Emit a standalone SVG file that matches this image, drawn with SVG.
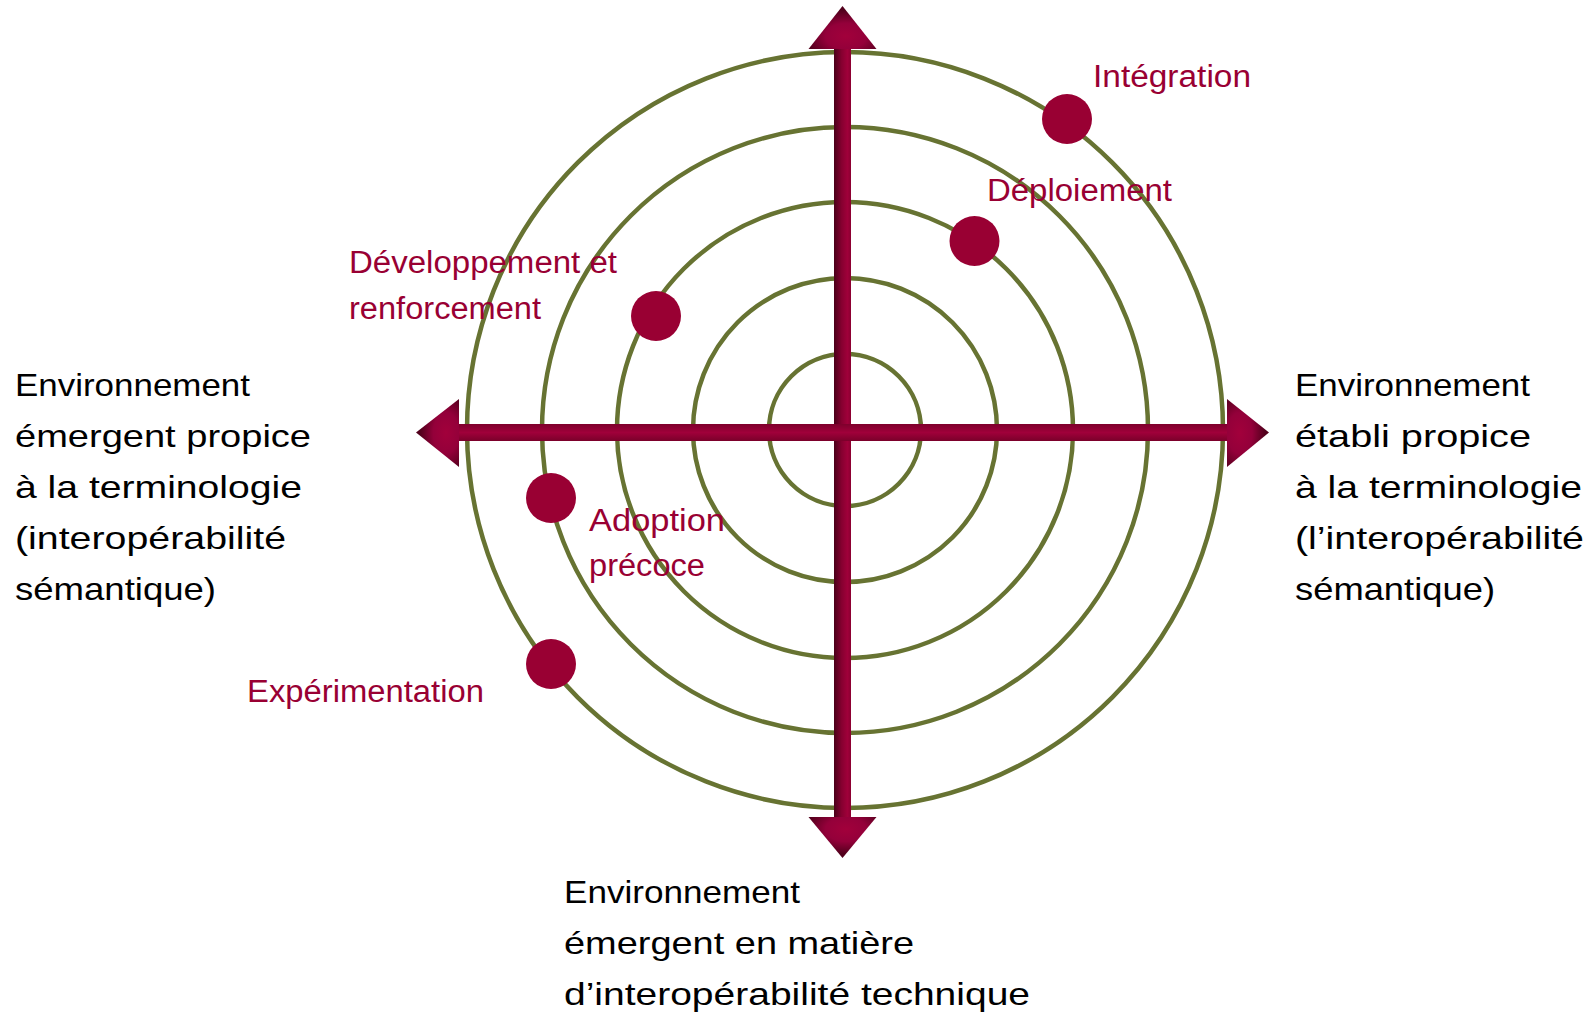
<svg xmlns="http://www.w3.org/2000/svg" width="1595" height="1013" viewBox="0 0 1595 1013">
  <defs>
    <style>
      .ring { fill: none; stroke: #677332; stroke-width: 4.5; }
      .dot { fill: #990033; }
      .lbl { font-family: "Liberation Sans", "Open Sans", sans-serif; font-size: 31px; fill: #990033; }
      .blk { font-family: "Liberation Sans", "Open Sans", sans-serif; font-size: 32px; fill: #000000; }
    </style>
    <linearGradient id="gV" x1="0" y1="0" x2="1" y2="0">
      <stop offset="0" stop-color="#4a0019"/>
      <stop offset="0.45" stop-color="#860030"/>
      <stop offset="0.8" stop-color="#a0003a"/>
      <stop offset="1" stop-color="#8a0030"/>
    </linearGradient>
    <linearGradient id="gH" x1="0" y1="0" x2="0" y2="1">
      <stop offset="0" stop-color="#7e002c"/>
      <stop offset="0.5" stop-color="#a0003a"/>
      <stop offset="1" stop-color="#7a002a"/>
    </linearGradient>
    <radialGradient id="gUp" cx="0.55" cy="0.7" r="0.6">
      <stop offset="0" stop-color="#a2003b"/>
      <stop offset="0.5" stop-color="#94003a"/>
      <stop offset="1" stop-color="#52001c"/>
    </radialGradient>
    <radialGradient id="gDown" cx="0.55" cy="0.3" r="0.6">
      <stop offset="0" stop-color="#a2003b"/>
      <stop offset="0.5" stop-color="#94003a"/>
      <stop offset="1" stop-color="#52001c"/>
    </radialGradient>
    <radialGradient id="gRight" cx="0.3" cy="0.5" r="0.6">
      <stop offset="0" stop-color="#a2003b"/>
      <stop offset="0.5" stop-color="#94003a"/>
      <stop offset="1" stop-color="#52001c"/>
    </radialGradient>
    <radialGradient id="gLeft" cx="0.7" cy="0.5" r="0.6">
      <stop offset="0" stop-color="#a2003b"/>
      <stop offset="0.5" stop-color="#94003a"/>
      <stop offset="1" stop-color="#52001c"/>
    </radialGradient>
  </defs>

  <g id="rings">
    <circle class="ring" cx="845" cy="430" r="76"/>
    <circle class="ring" cx="845" cy="430" r="152"/>
    <circle class="ring" cx="845" cy="430" r="228"/>
    <circle class="ring" cx="845" cy="430" r="303"/>
    <circle class="ring" cx="845" cy="430" r="378"/>
  </g>

  <g id="connectors">
    <rect x="834" y="48" width="17" height="770" fill="url(#gV)"/>
    <polygon points="842.5,6 876.5,49 808.5,49" fill="url(#gUp)"/>
    <polygon points="842.5,858 876.5,817 808.5,817" fill="url(#gDown)"/>
    <rect x="458" y="424" width="770" height="17" fill="url(#gH)"/>
    <polygon points="1269,432.5 1227,399 1227,467" fill="url(#gRight)"/>
    <polygon points="416,432.5 459,399 459,467" fill="url(#gLeft)"/>
  </g>

  <g id="node-integration">
    <circle class="dot" cx="1067" cy="119" r="25"/>
    <text class="lbl" x="1093" y="87" textLength="158" lengthAdjust="spacingAndGlyphs">Intégration</text>
  </g>
  <g id="node-deploiement">
    <circle class="dot" cx="974.5" cy="241" r="25"/>
    <text class="lbl" x="987" y="201" textLength="185" lengthAdjust="spacingAndGlyphs">Déploiement</text>
  </g>
  <g id="node-developpement">
    <circle class="dot" cx="656" cy="316" r="25"/>
    <text class="lbl" x="349" y="273" textLength="268" lengthAdjust="spacingAndGlyphs">Développement et</text>
    <text class="lbl" x="349" y="319" textLength="192" lengthAdjust="spacingAndGlyphs">renforcement</text>
  </g>
  <g id="node-adoption">
    <circle class="dot" cx="551" cy="498" r="25"/>
    <text class="lbl" x="589" y="531" textLength="136" lengthAdjust="spacingAndGlyphs">Adoption</text>
    <text class="lbl" x="589" y="576" textLength="116" lengthAdjust="spacingAndGlyphs">précoce</text>
  </g>
  <g id="node-experimentation">
    <circle class="dot" cx="551" cy="664" r="25"/>
    <text class="lbl" x="247" y="702" textLength="237" lengthAdjust="spacingAndGlyphs">Expérimentation</text>
  </g>

  <g id="label-left">
    <text class="blk" x="15" y="396" textLength="235" lengthAdjust="spacingAndGlyphs">Environnement</text>
    <text class="blk" x="15" y="447" textLength="296" lengthAdjust="spacingAndGlyphs">émergent propice</text>
    <text class="blk" x="15" y="498" textLength="287" lengthAdjust="spacingAndGlyphs">à la terminologie</text>
    <text class="blk" x="15" y="549" textLength="271" lengthAdjust="spacingAndGlyphs">(interopérabilité</text>
    <text class="blk" x="15" y="600" textLength="201" lengthAdjust="spacingAndGlyphs">sémantique)</text>
  </g>
  <g id="label-right">
    <text class="blk" x="1295" y="396" textLength="235" lengthAdjust="spacingAndGlyphs">Environnement</text>
    <text class="blk" x="1295" y="447" textLength="236" lengthAdjust="spacingAndGlyphs">établi propice</text>
    <text class="blk" x="1295" y="498" textLength="287" lengthAdjust="spacingAndGlyphs">à la terminologie</text>
    <text class="blk" x="1295" y="549" textLength="289" lengthAdjust="spacingAndGlyphs">(l’interopérabilité</text>
    <text class="blk" x="1295" y="600" textLength="200" lengthAdjust="spacingAndGlyphs">sémantique)</text>
  </g>
  <g id="label-bottom">
    <text class="blk" x="564" y="903" textLength="236" lengthAdjust="spacingAndGlyphs">Environnement</text>
    <text class="blk" x="564" y="954" textLength="350" lengthAdjust="spacingAndGlyphs">émergent en matière</text>
    <text class="blk" x="564" y="1005" textLength="466" lengthAdjust="spacingAndGlyphs">d’interopérabilité technique</text>
  </g>
</svg>
